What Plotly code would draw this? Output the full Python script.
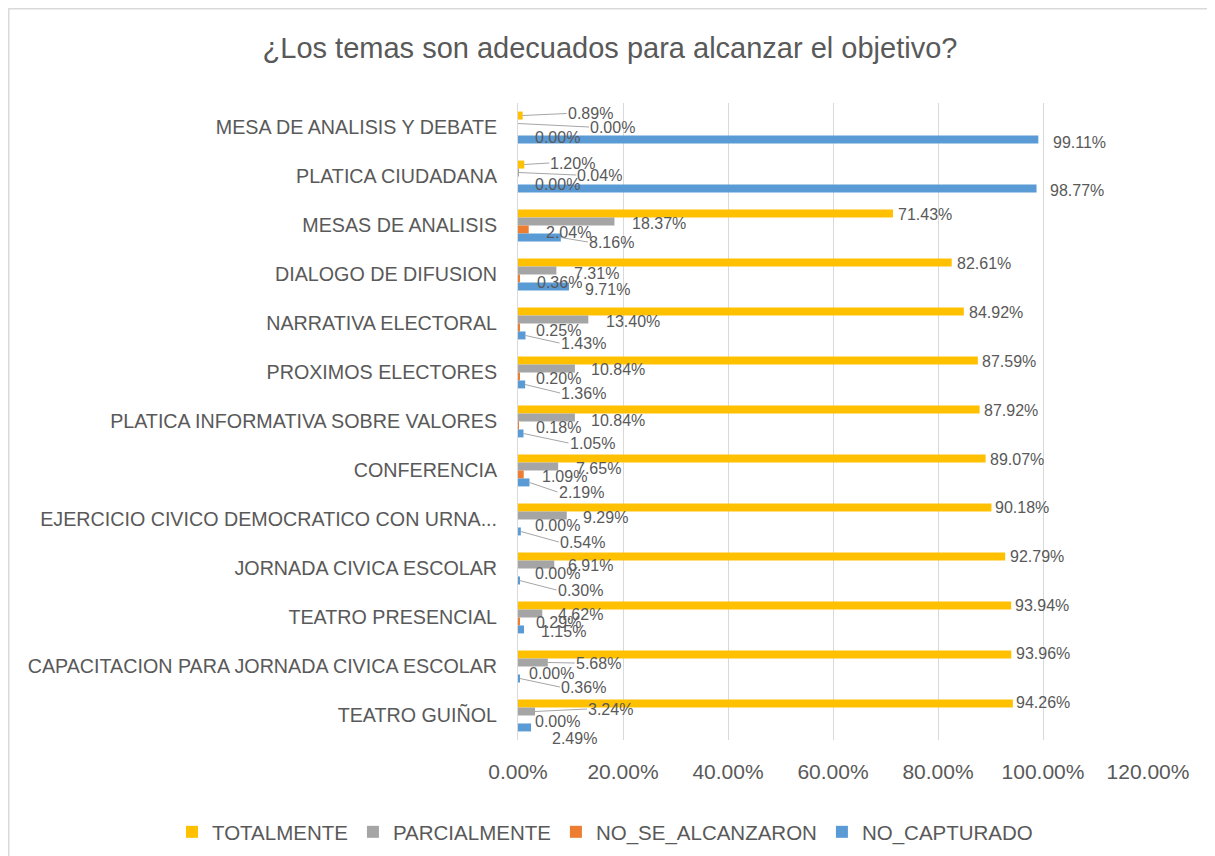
import plotly.graph_objects as go

categories = [
    "MESA DE ANALISIS Y DEBATE",
    "PLATICA CIUDADANA",
    "MESAS DE ANALISIS",
    "DIALOGO DE DIFUSION",
    "NARRATIVA ELECTORAL",
    "PROXIMOS ELECTORES",
    "PLATICA INFORMATIVA SOBRE VALORES",
    "CONFERENCIA",
    "EJERCICIO CIVICO DEMOCRATICO CON URNA...",
    "JORNADA CIVICA ESCOLAR",
    "TEATRO PRESENCIAL",
    "CAPACITACION PARA JORNADA CIVICA ESCOLAR",
    "TEATRO GUIÑOL",
]

totalmente = [0.89, 1.20, 71.43, 82.61, 84.92, 87.59, 87.92, 89.07, 90.18, 92.79, 93.94, 93.96, 94.26]
parcialmente = [0.00, 0.04, 18.37, 7.31, 13.40, 10.84, 10.84, 7.65, 9.29, 6.91, 4.62, 5.68, 3.24]
no_se_alcanzaron = [0.00, 0.00, 2.04, 0.36, 0.25, 0.20, 0.18, 1.09, 0.00, 0.00, 0.29, 0.00, 0.00]
no_capturado = [99.11, 98.77, 8.16, 9.71, 1.43, 1.36, 1.05, 2.19, 0.54, 0.30, 1.15, 0.36, 2.49]

series_names = ["TOTALMENTE", "PARCIALMENTE", "NO_SE_ALCANZARON", "NO_CAPTURADO"]
series_values = [totalmente, parcialmente, no_se_alcanzaron, no_capturado]
series_colors = ["#FFC000", "#A5A5A5", "#ED7D31", "#5B9BD5"]

x_ticks = [0, 0.2, 0.4, 0.6, 0.8, 1.0, 1.2]

# --- data label placement style (pixel offsets from bar end, leader line flag),
#     mimicking the spreadsheet's label layout
label_style = {
    "TOTALMENTE": [(44, -2, True), (25, -1.5, True), (5, 0.5, False), (5, 0.5, False),
                   (5, 0.5, False), (4, 0.5, False), (4, 0.5, False), (4, 0.5, False),
                   (4, -0.5, False), (5, -0.5, False), (4, -0.5, False), (5, -1.5, False),
                   (3, -1.5, False)],
    "PARCIALMENTE": [(71, 3.5, True), (58, 2.5, True), (18, 1.5, False), (18, 2.5, False),
                     (18, 1.5, False), (16, 0.5, False), (16, 2.5, False), (18, 1.5, False),
                     (16, 1.5, False), (14, 0.5, False), (16, 0.5, False), (27, 0.5, True),
                     (52, -2.5, True)],
    "NO_SE_ALCANZARON": [(17, 5.5, False), (17, 3.5, False), (17, 2.5, False), (17, 3.5, False),
                         (17, 2.5, False), (17, 1.5, False), (17, 1.5, False), (18, 1.5, False),
                         (17, 1.5, False), (17, 0.5, False), (16, 0.5, False), (11, 2.5, False),
                         (17, 1.5, False)],
    "NO_CAPTURADO": [(15, 2.5, False), (13.5, 1.5, False), (27, 4.5, True), (16, 2.5, False),
                     (34, 7.5, True), (35, 8.5, True), (45, 9.5, True), (28, 9.5, True),
                     (38, 10.5, True), (37, 9.5, True), (17, 1.5, False), (40, 8.5, True),
                     (21, 10.5, False)],
}
bar_offsets = [-12, -4, 4, 12]   # screen px of each bar centre within its group

TEXT = "#595959"
FONT = "Liberation Sans, Arial, sans-serif"

# figure coords (page has an 8px body margin)
W, H = 1207, 848
L, R, T, B = 510, 1140, 95, 732

fig = go.Figure()
for name, vals, color in zip(series_names, series_values, series_colors):
    fig.add_trace(go.Bar(
        name=name,
        y=categories,
        x=[v / 100 for v in vals],
        orientation="h",
        marker=dict(color=color, line=dict(width=0)),
        hovertemplate="%{y}<br>" + name + ": %{x:.2%}<extra></extra>",
    ))

annotations = []
for k, (name, vals) in enumerate(zip(series_names, series_values)):
    for i, (cat, v) in enumerate(zip(categories, vals)):
        dx, dy, lead = label_style[name][i]
        base = dict(
            x=v / 100, y=cat, xref="x", yref="y",
            text=f"{v:.2f}%",
            font=dict(family=FONT, size=16, color=TEXT),
            xanchor="left", yanchor="middle",
            borderpad=0,
        )
        if lead:
            base.update(
                showarrow=True, arrowhead=0, arrowwidth=1, arrowcolor="#A6A6A6",
                axref="pixel", ayref="pixel", ax=dx, ay=dy,
                yshift=-bar_offsets[k], standoff=0, startstandoff=0,
            )
        else:
            base.update(showarrow=False, xshift=dx - 1, yshift=-(bar_offsets[k] + dy))
        annotations.append(base)

fig.update_layout(
    width=W, height=H,
    barmode="group",
    bargap=0.35,
    bargroupgap=0,
    paper_bgcolor="white",
    plot_bgcolor="white",
    margin=dict(l=L, r=W - R, t=T, b=H - B, pad=0, autoexpand=False),
    font=dict(family=FONT, color=TEXT),
    title=dict(
        text="¿Los temas son adecuados para alcanzar el objetivo?",
        x=602 / W, xanchor="center",
        y=1 - 40 / H, yanchor="middle",
        font=dict(family=FONT, size=29, color=TEXT),
    ),
    xaxis=dict(
        range=[0, 1.2],
        tickvals=x_ticks,
        tickformat=".2%",
        showgrid=True,
        gridcolor="#D9D9D9",
        gridwidth=1,
        zeroline=False,
        showline=False,
        ticks="",
        tickfont=dict(family=FONT, size=21, color=TEXT),
        ticklabelstandoff=17,
        automargin=False,
        fixedrange=True,
    ),
    yaxis=dict(
        autorange="reversed",
        showgrid=False,
        zeroline=False,
        showline=True,
        linecolor="#D9D9D9",
        linewidth=1,
        ticks="",
        tickfont=dict(family=FONT, size=19.7, color=TEXT),
        ticklabelstandoff=16,
        automargin=False,
        fixedrange=True,
    ),
    legend=dict(
        orientation="h",
        x=(164 - L) / (R - L), xanchor="left",
        y=(B - 824) / (B - T), yanchor="middle",
        font=dict(family=FONT, size=20.5, color=TEXT),
        bgcolor="rgba(0,0,0,0)",
        itemclick=False, itemdoubleclick=False,
    ),
    showlegend=True,
    annotations=annotations,
)

# outer chart border
fig.add_shape(
    type="rect", xref="paper", yref="paper",
    x0=(0 - L) / (R - L), x1=(1240 - L) / (R - L),
    y0=(B - 880) / (B - T), y1=(B - 0) / (B - T),
    line=dict(color="#D9D9D9", width=3),
    fillcolor="rgba(0,0,0,0)",
    layer="below",
)

fig.write_html("out.html")
